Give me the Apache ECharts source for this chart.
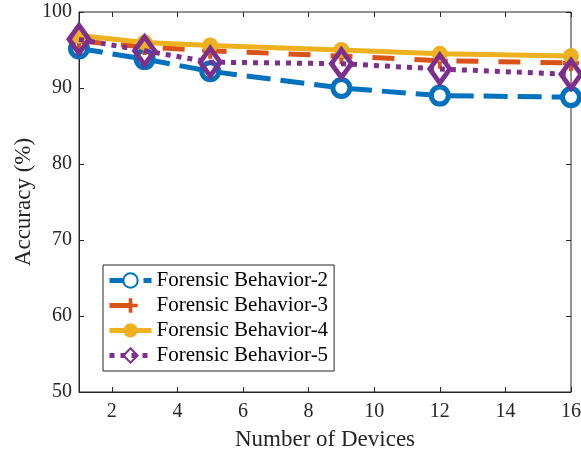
<!DOCTYPE html>
<html>
<head>
<meta charset="utf-8">
<script src="https://cdn.jsdelivr.net/npm/echarts@6/dist/echarts.min.js"></script>
<style>
  html, body { margin: 0; padding: 0; background: #fff; }
  #chart { width: 581px; height: 452px; }
</style>
</head>
<body>
<div id="chart"></div>
<script>
// devices on x axis
const devices = [1, 3, 5, 9, 12, 16];
const fb2 = [95.2, 93.8, 92.2, 90.0, 89.0, 88.8];
const fb3 = [96.2, 95.4, 94.9, 94.2, 93.6, 93.3];
const fb4 = [96.9, 96.0, 95.6, 95.0, 94.5, 94.2];
const fb5 = [96.4, 94.9, 93.4, 93.2, 92.5, 91.8];
const xTicks = [2, 4, 6, 8, 10, 12, 14, 16];
const seriesNames = ['Forensic Behavior-2', 'Forensic Behavior-3', 'Forensic Behavior-4', 'Forensic Behavior-5'];

const pts = (ys) => devices.map((x, i) => [x, ys[i]]);
const font = 'Liberation Serif';
const plusPath = 'path://M-1,-4L1,-4L1,-1L4,-1L4,1L1,1L1,4L-1,4L-1,1L-4,1L-4,-1L-1,-1Z';

const chart = echarts.init(document.getElementById('chart'));
chart.setOption({
  animation: false,
  backgroundColor: '#fff',
  grid: {
    left: 79, right: 10, top: 12, bottom: 60, outerBoundsMode: 'none',
    show: true, borderColor: '#262626', borderWidth: 1
  },
  legend: {
    orient: 'vertical', left: 103, top: 265,
    backgroundColor: '#fff', borderColor: '#262626', borderWidth: 1,
    padding: [5, 6, 5, 4], itemWidth: 42, itemHeight: 18, itemGap: 4,
    lineStyle: { width: 5 },
    textStyle: { fontFamily: font, fontSize: 21, color: '#000' },
    data: seriesNames
  },
  xAxis: [{
    type: 'value', min: 1, max: 16,
    name: 'Number of Devices', nameLocation: 'middle', nameGap: 36,
    nameTextStyle: { fontFamily: font, fontSize: 23, color: '#262626' },
    axisLine: { lineStyle: { color: '#262626' } },
    axisTick: { inside: true, length: 5, lineStyle: { color: '#262626' }, customValues: xTicks },
    axisLabel: { fontFamily: font, fontSize: 20, color: '#262626', margin: 10, customValues: xTicks },
    splitLine: { show: false }
  }, {
    type: 'value', min: 1, max: 16, position: 'top',
    axisLine: { show: false },
    axisTick: { inside: true, length: 5, lineStyle: { color: '#262626' }, customValues: xTicks },
    axisLabel: { show: false }, splitLine: { show: false }
  }],
  yAxis: [{
    type: 'value', min: 50, max: 100, interval: 10,
    name: 'Accuracy (%)', nameLocation: 'middle', nameGap: 44, nameMoveOverlap: false,
    nameTextStyle: { fontFamily: font, fontSize: 23, color: '#262626' },
    axisLine: { show: true, lineStyle: { color: '#262626' } },
    axisTick: { show: true, inside: true, length: 5, lineStyle: { color: '#262626' } },
    axisLabel: { fontFamily: font, fontSize: 20, color: '#262626', margin: 7 },
    splitLine: { show: false }
  }, {
    type: 'value', min: 50, max: 100, interval: 10, position: 'right',
    axisLine: { show: false },
    axisTick: { show: true, inside: true, length: 5, lineStyle: { color: '#262626' } },
    axisLabel: { show: false }, splitLine: { show: false }
  }],
  series: [{
    name: seriesNames[0], type: 'line', data: pts(fb2), z: 2,
    symbol: 'circle', symbolSize: 17,
    itemStyle: { color: '#fff', borderColor: '#0072BD', borderWidth: 5 },
    lineStyle: { color: '#0072BD', width: 5, type: [24, 10] }
  }, {
    name: seriesNames[1], type: 'line', data: pts(fb3), z: 3,
    symbol: plusPath, symbolSize: 16,
    itemStyle: { color: '#D95319' },
    lineStyle: { color: '#D95319', width: 5, type: [22, 20] }
  }, {
    name: seriesNames[2], type: 'line', data: pts(fb4), z: 4,
    symbol: 'circle', symbolSize: 16,
    itemStyle: { color: '#EDB120' },
    lineStyle: { color: '#EDB120', width: 5 }
  }, {
    name: seriesNames[3], type: 'line', data: pts(fb5), z: 5,
    symbol: 'diamond', symbolSize: [20, 28],
    itemStyle: { color: 'rgba(0,0,0,0)', borderColor: '#7E2F8E', borderWidth: 5 },
    lineStyle: { color: '#7E2F8E', width: 5, type: [5, 6] }
  }]
});
</script>
</body>
</html>
